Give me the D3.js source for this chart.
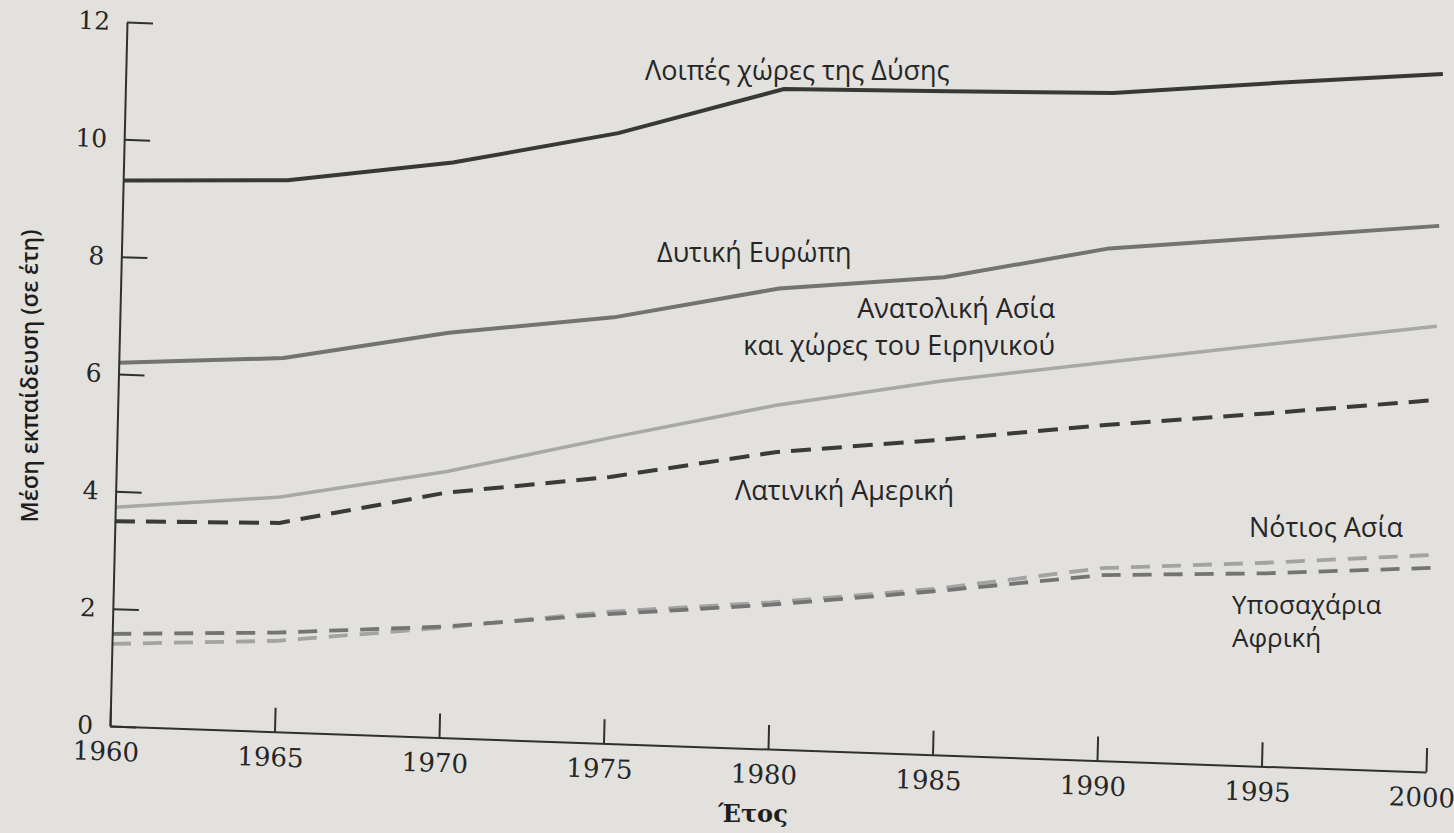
<!DOCTYPE html>
<html>
<head>
<meta charset="utf-8">
<script src="https://cdn.jsdelivr.net/npm/d3@7"></script>
<style>
  body { margin: 0; background: #e2e1dd; }
  .tick text { fill: #262626; }
  .lbl { font-family: "Open Sans", "Noto Sans", sans-serif; font-size: 27px; fill: #262626; }
</style>
</head>
<body>
<div id="chart"></div>
<script>
// years on the x axis
var years = [1960, 1965, 1970, 1975, 1980, 1985, 1990, 1995, 2000];
// mean years of schooling
var otherWest    = [9.30, 9.40, 9.80, 10.40, 11.25, 11.31, 11.38, 11.65, 11.90];
var westEurope   = [6.19, 6.37, 6.90, 7.26, 7.85, 8.14, 8.73, 9.02, 9.31];
var eastAsia     = [3.73, 4.00, 4.53, 5.21, 5.86, 6.37, 6.79, 7.20, 7.60];
var latinAmerica = [3.49, 3.56, 4.17, 4.54, 5.06, 5.37, 5.72, 6.02, 6.34];
var southAsia    = [1.40, 1.55, 1.87, 2.24, 2.50, 2.83, 3.28, 3.47, 3.70];
var subSaharan   = [1.57, 1.69, 1.89, 2.20, 2.46, 2.79, 3.16, 3.29, 3.48];
var yTicks = [0, 2, 4, 6, 8, 10, 12];

var width = 1454, height = 833;
var plotW = 1316, plotH = 704;

var svg = d3.select("#chart").append("svg")
    .attr("width", width)
    .attr("height", height);

svg.append("rect").attr("width", width).attr("height", height).attr("fill", "#e2e1dd");

// the page in the photo is a little askew, so the plot sits in a skewed group
var g = svg.append("g")
    .attr("transform", "matrix(1,0.035,-0.02415,1,110,726)");

var x = d3.scaleLinear().domain([1960, 2000]).range([0, plotW]);
var y = d3.scaleLinear().domain([0, 12]).range([0, -plotH]);

var series = [
  {values: otherWest,    color: "#383838", w: 4,   dash: null},
  {values: westEurope,   color: "#737373", w: 4,   dash: null},
  {values: eastAsia,     color: "#a8a8a8", w: 3.5, dash: null},
  {values: latinAmerica, color: "#3a3a3a", w: 4,   dash: "20,11"},
  {values: southAsia,    color: "#a3a3a3", w: 3.8, dash: "19,12"},
  {values: subSaharan,   color: "#747474", w: 3.8, dash: "19,12"}
];

var line = d3.line()
    .x(function(d, i) { return x(years[i]); })
    .y(function(d) { return y(d); });

g.selectAll("path.series")
    .data(series)
    .enter()
    .append("path")
    .attr("class", "series")
    .attr("d", function(d) { return line(d.values); })
    .attr("fill", "none")
    .attr("stroke", function(d) { return d.color; })
    .attr("stroke-width", function(d) { return d.w; })
    .attr("stroke-dasharray", function(d) { return d.dash; });

// axes
var xAxis = g.append("g")
    .call(d3.axisBottom(x).tickValues(years).tickFormat(d3.format("d"))
      .tickSize(-24).tickSizeOuter(0).tickPadding(16));
xAxis.selectAll("text")
    .attr("dx", -4)
    .style("font-family", "'DejaVu Serif', serif")
    .style("font-size", "26px");

var yAxis = g.append("g")
    .call(d3.axisLeft(y).tickValues(yTicks).tickSize(-26).tickSizeOuter(0).tickPadding(17));
yAxis.selectAll("text")
    .style("font-family", "'DejaVu Serif', serif")
    .style("font-size", "25px");

g.selectAll(".domain, .tick line")
    .attr("stroke", "#303030")
    .attr("stroke-width", 2);

// axis titles
svg.append("text")
    .attr("transform", "translate(38,376) rotate(-90)")
    .attr("text-anchor", "middle")
    .style("font-family", "'Open Sans', sans-serif")
    .style("font-weight", 600)
    .style("font-size", "23px")
    .attr("fill", "#1e1e1e")
    .text("Μέση εκπαίδευση (σε έτη)");

svg.append("text")
    .attr("x", 753)
    .attr("y", 822)
    .attr("text-anchor", "middle")
    .style("font-family", "'DejaVu Serif', serif")
    .style("font-weight", "bold")
    .style("font-size", "24px")
    .attr("fill", "#1e1e1e")
    .text("Έτος");

// series labels (two-line labels are kept in one text element)
var labels = [
  {t: ["Λοιπές χώρες της Δύσης"], x: 645, y: 80, a: "start", size: 27, gap: 0},
  {t: ["Δυτική Ευρώπη"], x: 657, y: 262, a: "start", size: 27, gap: 0},
  {t: ["Ανατολική Ασία", "και χώρες του Ειρηνικού"], x: 1055, y: 318, a: "end", size: 27, gap: 37},
  {t: ["Λατινική Αμερική"], x: 735, y: 500, a: "start", size: 27, gap: 0},
  {t: ["Νότιος Ασία"], x: 1249, y: 537, a: "start", size: 27, gap: 0},
  {t: ["Υποσαχάρια", "Αφρική"], x: 1232, y: 614, a: "start", size: 26, gap: 33}
];

var lbl = svg.selectAll("text.lbl")
    .data(labels)
    .enter()
    .append("text")
    .attr("class", "lbl")
    .attr("x", function(d) { return d.x; })
    .attr("y", function(d) { return d.y; })
    .attr("text-anchor", function(d) { return d.a; })
    .style("font-size", function(d) { return d.size + "px"; });

lbl.selectAll("tspan")
    .data(function(d) { return d.t.map(function(s) { return {s: s, x: d.x, gap: d.gap}; }); })
    .enter()
    .append("tspan")
    .attr("x", function(d) { return d.x; })
    .attr("dy", function(d, i) { return i === 0 ? 0 : d.gap; })
    .text(function(d) { return d.s; });
</script>
</body>
</html>
